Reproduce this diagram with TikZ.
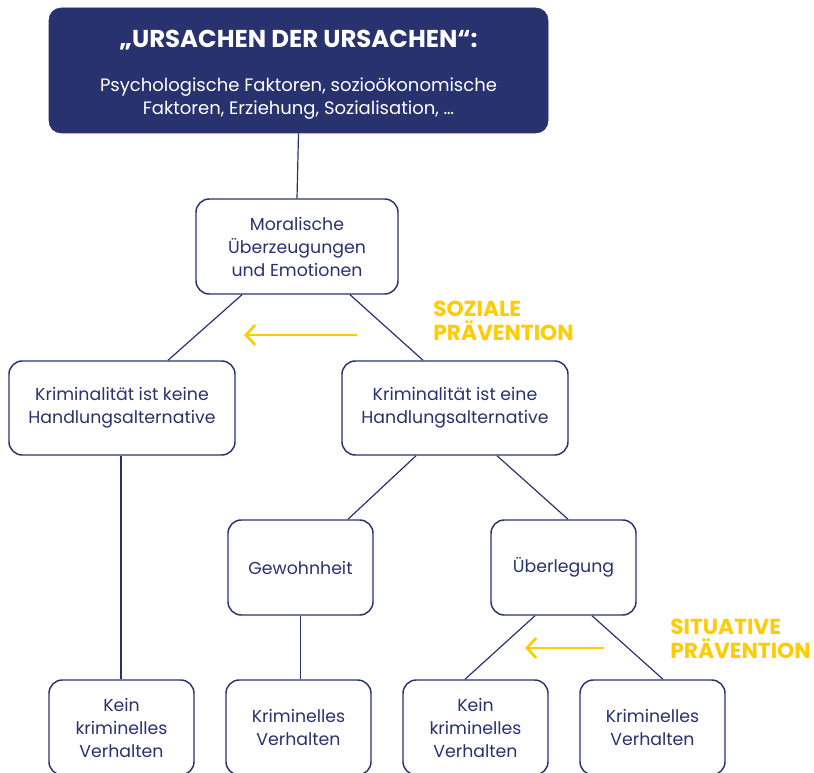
\documentclass[tikz,border=0pt]{standalone}
\usepackage{fontspec}
\setmainfont{Poppins}
\usetikzlibrary{arrows.meta,calc}
\definecolor{navy}{RGB}{40,50,110}
\definecolor{gelb}{RGB}{255,204,0}
\tikzset{
  box/.style={draw=navy, line width=1.1pt, rounded corners=10pt, align=center, text=navy,
    font=\fontsize{13}{17.25}\selectfont, inner sep=0pt},
  topbox/.style={fill=navy, draw=navy, rounded corners=9pt, align=center, text=white, inner sep=0pt,
    minimum width=374.25pt, minimum height=93.75pt},
  conn/.style={draw=navy, line width=0.9pt},
  yarrow/.style={draw=gelb, line width=2pt, -{Straight Barb[length=7pt,width=15pt,line width=2pt]}},
  ylabel/.style={text=gelb, align=left, anchor=west, inner sep=0pt,
    font=\fontsize{16.3}{18}\selectfont\bfseries},
  wide/.style={minimum width=169.5pt, minimum height=70.5pt},
  small/.style={minimum width=108.75pt, minimum height=71.25pt}
}
\begin{document}
\begin{tikzpicture}[x=0.75pt,y=-0.75pt]
\useasboundingbox (0,0) rectangle (814,773);
% top box
\node[topbox] (top) at (298.5,70.5) {};
\node[text=white, inner sep=0pt, font=\fontsize{18.3}{20}\selectfont\bfseries] (title) at (298.5,40) {„URSACHEN DER URSACHEN“:};
\node[text=white, inner sep=0pt, align=center, font=\fontsize{13.5}{17.25}\selectfont] (sub) at (298.5,99) {Psychologische Faktoren, sozioökonomische\\Faktoren, Erziehung, Sozialisation, …};
% nodes
\node[box, minimum width=151.5pt, minimum height=71.25pt] (moral) at (297,246.5) {Moralische\\Überzeugungen\\und Emotionen};
\node[box, wide] (keine) at (122,408) {Kriminalität ist keine\\Handlungsalternative};
\node[box, wide] (eine) at (455,408) {Kriminalität ist eine\\Handlungsalternative};
\node[box, small] (gew) at (300.5,567.5) {Gewohnheit};
\node[box, small] (ueb) at (563.5,567.5) {Überlegung};
\node[box, small] (b1) at (121.5,727.5) {Kein\\kriminelles\\Verhalten};
\node[box, small] (b2) at (298.5,727.5) {Kriminelles\\Verhalten};
\node[box, small] (b3) at (475.5,727.5) {Kein\\kriminelles\\Verhalten};
\node[box, small] (b4) at (652.5,727.5) {Kriminelles\\Verhalten};
% connectors
\draw[conn] (top.south) -- (moral.north);
\draw[conn] ($(moral.south)+(-55,0)$) -- ($(keine.north)+(46,0)$);
\draw[conn] ($(moral.south)+(53,0)$) -- ($(eine.north)+(-32,0)$);
\draw[conn] ($(keine.south)+(-1,0)$) -- ($(b1.north)+(-0.5,0)$);
\draw[conn] ($(eine.south)+(-39,0)$) -- ($(gew.north)+(47.5,0)$);
\draw[conn] ($(eine.south)+(42,0)$) -- ($(ueb.north)+(4.5,0)$);
\draw[conn] (gew.south) -- (gew.south |- b2.north);
\draw[conn] ($(ueb.south)+(-28.5,0)$) -- ($(b3.north)+(-10.5,0)$);
\draw[conn] ($(ueb.south)+(28.5,0)$) -- ($(b4.north)+(10.5,0)$);
% prevention arrows
\coordinate (s1) at (357,335);
\coordinate (e1) at (244,335);
\coordinate (s2) at (604,648);
\coordinate (e2) at (525,648);
\draw[yarrow] (s1) -- (e1);
\draw[yarrow] (s2) -- (e2);
\node[ylabel] (soz) at (433,321) {SOZIALE\\PRÄVENTION};
\node[ylabel] (sit) at (670,639) {SITUATIVE\\PRÄVENTION};
\end{tikzpicture}
\end{document}
